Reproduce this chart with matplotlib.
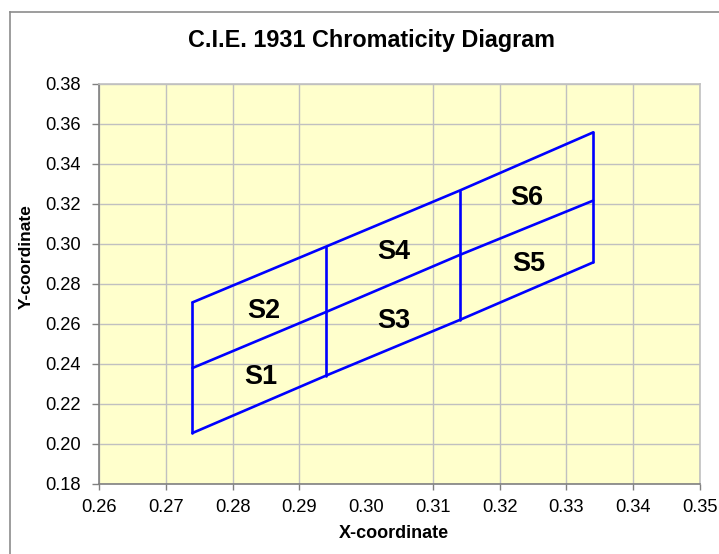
import matplotlib
matplotlib.use("Agg")
import matplotlib.pyplot as plt
from matplotlib.lines import Line2D

plt.rcParams['font.family'] = ['Liberation Sans', 'DejaVu Sans']

# Data
x_pts = [0.274, 0.294, 0.314, 0.334]
bottom_y = [0.2055, 0.2342, 0.2620, 0.2908]
middle_y = [0.2380, 0.2660, 0.2945, 0.3217]
top_y = [0.2708, 0.2987, 0.3267, 0.3558]

region_names = ["S1", "S2", "S3", "S4", "S5", "S6"]
region_x = [0.2843, 0.2847, 0.3042, 0.3042, 0.3244, 0.3241]
region_y = [0.2333, 0.2667, 0.2617, 0.2958, 0.2900, 0.3230]

x_ticks = [0.26, 0.27, 0.28, 0.29, 0.30, 0.31, 0.32, 0.33, 0.34, 0.35]
y_ticks = [0.18, 0.20, 0.22, 0.24, 0.26, 0.28, 0.30, 0.32, 0.34, 0.36, 0.38]

W, H = 719, 554
fig = plt.figure(figsize=(W / 100, H / 100), dpi=100)
fig.patch.set_facecolor('white')

# outer chart frame (cropped on right and bottom)
fx = lambda px: px / W
fy = lambda py: 1 - py / H
fig.add_artist(Line2D([fx(9.5), 1.0], [fy(11.5), fy(11.5)], color='#8c8c8c', lw=1.2, transform=fig.transFigure))
fig.add_artist(Line2D([fx(9.5), fx(9.5)], [fy(11.5), 0.0], color='#8c8c8c', lw=1.2, transform=fig.transFigure))

left, right, top, bot = 99, 700, 84, 484
ax = fig.add_axes([left / W, 1 - bot / H, (right - left) / W, (bot - top) / H])
ax.set_facecolor('#FFFFCC')

blue = '#0000FF'
lw = 1.9
ax.plot(x_pts, bottom_y, color=blue, lw=lw, solid_capstyle='round')
ax.plot(x_pts, middle_y, color=blue, lw=lw, solid_capstyle='round')
ax.plot(x_pts, top_y, color=blue, lw=lw, solid_capstyle='round')
for xv, yb, yt in zip(x_pts, bottom_y, top_y):
    ax.plot([xv, xv], [yb, yt], color=blue, lw=lw, solid_capstyle='round')

for name, xv, yv in zip(region_names, region_x, region_y):
    ax.text(xv, yv, name, fontsize=19.5, fontweight='bold', ha='center', va='center', color='black')

ax.set_xlim(0.26, 0.35)
ax.set_ylim(0.18, 0.38)
ax.set_xticks(x_ticks)
ax.set_yticks(y_ticks)
ax.set_xticklabels([f"{v:.2f}" for v in x_ticks])
ax.set_yticklabels([f"{v:.2f}" for v in y_ticks])
ax.tick_params(axis='x', length=4, width=1, color='#808080', labelsize=13.2, pad=7)
ax.tick_params(axis='y', length=5, width=1, color='#808080', labelsize=13.2, pad=8)
ax.grid(True, color='#c0c0c0', lw=1)
ax.set_axisbelow(True)

# the reference shows no gridline / tick mark at x = 0.30
for i, v in enumerate(x_ticks):
    if abs(v - 0.30) < 1e-9:
        ax.get_xgridlines()[i].set_visible(False)
        ax.xaxis.get_major_ticks()[i].tick1line.set_visible(False)

for s in ['left', 'bottom']:
    ax.spines[s].set_color('#808080')
    ax.spines[s].set_linewidth(1.2)
for s in ['top', 'right']:
    ax.spines[s].set_color('#c0c0c0')
    ax.spines[s].set_linewidth(1.2)

fig.text(fx(371), fy(41), "C.I.E. 1931 Chromaticity Diagram", fontsize=16.8, fontweight='bold',
         ha='center', va='center')
fig.text(fx(394), fy(534), "X-coordinate", fontsize=13, fontweight='bold', ha='center', va='center')
fig.text(fx(26), fy(257), "Y-coordinate", fontsize=12.5, fontweight='bold', ha='center', va='center',
         rotation=90)

fig.savefig("out.png", dpi=100)
